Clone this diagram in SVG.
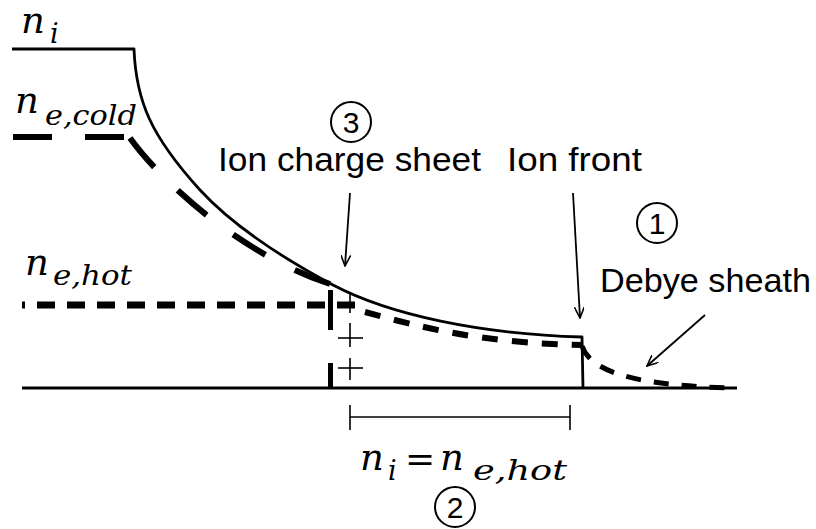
<svg xmlns="http://www.w3.org/2000/svg" width="816" height="529" viewBox="0 0 816 529">
<defs>
<style>
.ln{fill:none;stroke:#000;stroke-width:2.8;stroke-linejoin:round}
.cold{fill:none;stroke:#000;stroke-width:6}
.hot{fill:none;stroke:#000;stroke-width:7;stroke-dasharray:18 12}
.thin{fill:none;stroke:#000;stroke-width:1.6}
.arr{fill:none;stroke:#000;stroke-width:1.8;marker-end:url(#ah)}
.lbl{font-family:"Liberation Sans",Arial,sans-serif;font-size:33px;fill:#000}
.num{font-family:"Liberation Sans",Arial,sans-serif;font-size:30px;fill:#000;text-anchor:middle}
.m{font-family:"DejaVu Serif","Liberation Serif",serif;font-style:italic;fill:#000}
.n{font-size:37px}
.s{font-size:27px}
.circ{fill:none;stroke:#000;stroke-width:2}
</style>
<marker id="ah" viewBox="0 0 12 10" refX="11" refY="5" markerWidth="12" markerHeight="10" markerUnits="userSpaceOnUse" orient="auto">
<path d="M0,0 L11,5 L0,10" fill="none" stroke="#000" stroke-width="1.6"/>
</marker>
</defs>
<rect width="816" height="529" fill="#fff"/>

<g id="axis">
<line class="ln" x1="22" y1="388" x2="737" y2="388"/>
</g>

<g id="ni-curve">
<path class="ln" d="M12,49 L134,49 C136,100 150,135 200,190 C235,228 290,262 333,285 C390,315 480,334 582,337 L583,388"/>
</g>

<g id="ne-cold-curve">
<path class="cold" stroke-dasharray="39 33" d="M13,137 L126,137"/>
<path class="cold" stroke-dasharray="38 33" d="M130,138 C160,180 240,255 333,285"/>
</g>

<g id="ne-hot-curve">
<path class="hot" stroke-dashoffset="15" d="M22,305 L360,305"/>
<path class="cold" style="stroke-width:6;stroke-dasharray:16 14" d="M365,312 C420,327 480,343 582,345"/>
<path class="cold" style="stroke-width:5;stroke-dasharray:15 13" d="M582,346 C590,370 630,386 735,388"/>
</g>

<g id="charge-sheet">
<line x1="330.5" y1="290" x2="330.5" y2="330" stroke="#000" stroke-width="5"/>
<line x1="330.5" y1="363" x2="330.5" y2="388" stroke="#000" stroke-width="5"/>
<line class="thin" x1="350" y1="293" x2="350" y2="380" stroke-dasharray="20 10 24 11 22"/>
<line class="thin" x1="338" y1="338" x2="363" y2="338"/>
<line class="thin" x1="338" y1="368" x2="363" y2="368"/>
</g>

<g id="span-bracket">
<line class="thin" x1="350" y1="417" x2="570" y2="417"/>
<line class="thin" x1="350" y1="405" x2="350" y2="430"/>
<line class="thin" x1="570" y1="405" x2="570" y2="430"/>
</g>

<g id="connectors">
<line class="arr" x1="350" y1="193" x2="345" y2="266"/>
<line class="arr" x1="573" y1="193" x2="580" y2="318"/>
<line class="arr" x1="705" y1="315" x2="647" y2="366"/>
</g>

<g id="label-ni">
<text class="m n" x="21" y="33">n</text>
<text class="m s" x="50" y="43">i</text>
</g>
<g id="label-necold">
<text class="m n" x="15" y="113">n</text>
<text class="m s" x="45" y="125" textLength="92" lengthAdjust="spacingAndGlyphs">e,cold</text>
</g>
<g id="label-nehot">
<text class="m n" x="25" y="275">n</text>
<text class="m s" x="53" y="285" textLength="79" lengthAdjust="spacingAndGlyphs">e,hot</text>
</g>
<g id="label-equal">
<text class="m n" x="360" y="470">n</text>
<text class="m s" x="388" y="480">i</text>
<text x="405" y="471" font-family="DejaVu Serif,serif" font-size="36">=</text>
<text class="m n" x="440" y="470">n</text>
<text class="m s" x="473" y="480" textLength="94" lengthAdjust="spacingAndGlyphs">e,hot</text>
</g>

<g id="label-3">
<circle class="circ" cx="351" cy="122" r="20"/>
<text class="num" x="351" y="133">3</text>
</g>
<g id="label-charge-sheet">
<text class="lbl" x="218" y="171" textLength="263" lengthAdjust="spacingAndGlyphs">Ion charge sheet</text>
</g>
<g id="label-ion-front">
<text class="lbl" x="507" y="171" textLength="135" lengthAdjust="spacingAndGlyphs">Ion front</text>
</g>
<g id="label-1">
<circle class="circ" cx="657" cy="223" r="20"/>
<text class="num" x="657" y="234">1</text>
</g>
<g id="label-debye">
<text class="lbl" x="600" y="292" textLength="211" lengthAdjust="spacingAndGlyphs">Debye sheath</text>
</g>
<g id="label-2">
<circle class="circ" cx="455" cy="507" r="20"/>
<text class="num" x="455" y="518">2</text>
</g>
</svg>
